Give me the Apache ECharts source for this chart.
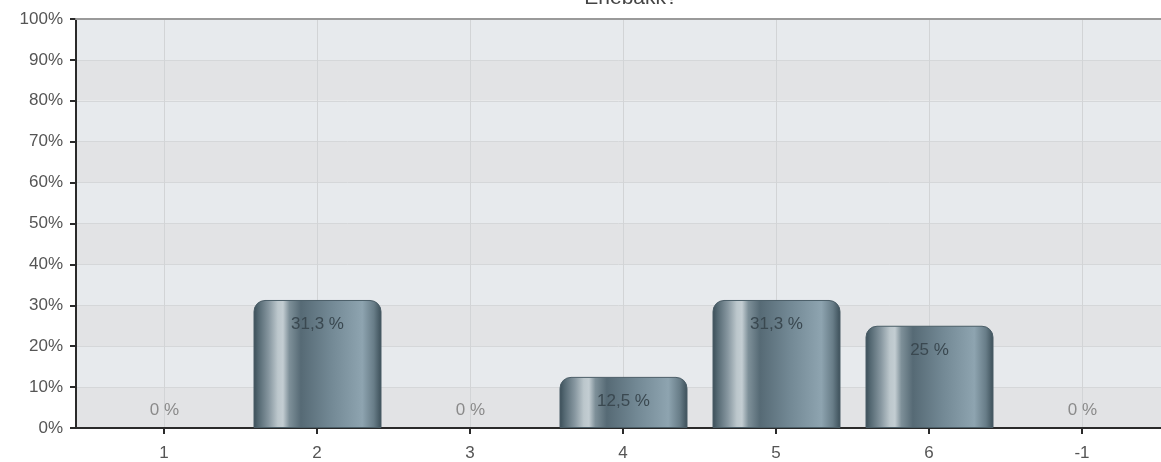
<!DOCTYPE html>
<html>
<head>
<meta charset="utf-8">
<script src="https://cdn.jsdelivr.net/npm/echarts@6/dist/echarts.min.js"></script>
<style>
  html, body { margin: 0; padding: 0; background: #ffffff; }
  #chart { width: 1161px; height: 462px; }
</style>
</head>
<body>
<div id="chart"></div>
<script>
// Answer categories and their share of responses (percent)
const titleText = 'Enebakk?';
const categories = ['1', '2', '3', '4', '5', '6', '-1'];
const percentages = [0, 31.3, 0, 12.5, 31.3, 25, 0];
const yMin = 0;
const yMax = 100;
const yStep = 10;

const FONT = "'Liberation Sans', Arial, sans-serif";
const AXIS_DARK = '#2a2a2a';

// Metallic cylinder look for the bars
const barGradient = new echarts.graphic.LinearGradient(0, 0, 1, 0, [
  { offset: 0.00, color: '#3a4d57' },
  { offset: 0.04, color: '#556973' },
  { offset: 0.12, color: '#8797a0' },
  { offset: 0.19, color: '#bcc7cc' },
  { offset: 0.23, color: '#c3cdd2' },
  { offset: 0.28, color: '#7e9099' },
  { offset: 0.37, color: '#566a75' },
  { offset: 0.60, color: '#728894' },
  { offset: 0.85, color: '#8ea4b0' },
  { offset: 0.94, color: '#687d88' },
  { offset: 1.00, color: '#3b4e58' }
]);

function pctText(v) {
  return String(v).replace('.', ',') + ' %';
}

// Empty answers get a grey label sitting just above the baseline
const barData = percentages.map(function (v) {
  if (v === 0) {
    return {
      value: v,
      itemStyle: { borderWidth: 0 },
      label: { position: 'top', distance: 9, color: '#8a8a8a' }
    };
  }
  return { value: v };
});

const chart = echarts.init(document.getElementById('chart'), null, { renderer: 'canvas' });

chart.setOption({
  animation: false,
  backgroundColor: '#ffffff',
  textStyle: { fontFamily: FONT },
  graphic: [{
    type: 'text',
    x: 631,
    y: 9,
    style: {
      text: titleText,
      fill: '#444',
      font: '21px ' + FONT,
      align: 'center',
      verticalAlign: 'bottom'
    }
  }],
  grid: [
    // full plot frame: background bands, horizontal lines, outer axes
    { left: 76, right: 0, top: 19, bottom: 34 },
    // category bands holding the bars
    { left: 88, width: 1071, top: 19, bottom: 34 },
    // span between first and last category centre: vertical lines, ticks, labels
    { left: 164, width: 918, top: 19, bottom: 34 }
  ],
  xAxis: [
    {
      gridIndex: 0,
      type: 'value',
      min: 0, max: 1,
      position: 'bottom',
      z: 3,
      axisLine: { show: true, lineStyle: { color: AXIS_DARK, width: 2 } },
      axisTick: { show: false },
      axisLabel: { show: false },
      splitLine: { show: false }
    },
    {
      gridIndex: 0,
      type: 'value',
      min: 0, max: 1,
      position: 'top',
      z: 3,
      axisLine: { show: true, lineStyle: { color: '#9a9a9a', width: 2 } },
      axisTick: { show: false },
      axisLabel: { show: false },
      splitLine: { show: false }
    },
    {
      gridIndex: 1,
      type: 'category',
      data: categories,
      boundaryGap: true,
      show: false
    },
    {
      gridIndex: 2,
      type: 'category',
      data: categories,
      boundaryGap: false,
      z: 1,
      axisLine: { show: false },
      axisTick: { show: true, length: 6, lineStyle: { color: AXIS_DARK, width: 2 } },
      axisLabel: { color: '#555', fontSize: 17, margin: 17, fontFamily: FONT, interval: 0 },
      splitLine: { show: true, interval: 0, lineStyle: { color: '#d2d4d6', width: 1 } }
    }
  ],
  yAxis: [
    {
      gridIndex: 0,
      type: 'value',
      min: yMin, max: yMax, interval: yStep,
      z: 0,
      axisLine: { show: true, lineStyle: { color: AXIS_DARK, width: 2 } },
      axisTick: { show: true, length: 6, lineStyle: { color: AXIS_DARK, width: 2 } },
      axisLabel: { color: '#555', fontSize: 17, margin: 13, fontFamily: FONT, formatter: '{value}%' },
      splitLine: { show: true, lineStyle: { color: '#d5d7d9', width: 1 } },
      splitArea: { show: true, areaStyle: { color: ['#e2e3e5', '#e7eaed'] } }
    },
    {
      gridIndex: 1,
      type: 'value',
      min: yMin, max: yMax, interval: yStep,
      show: false
    },
    {
      gridIndex: 2,
      type: 'value',
      min: yMin, max: yMax, interval: yStep,
      show: false
    }
  ],
  series: [{
    type: 'bar',
    xAxisIndex: 2,
    yAxisIndex: 1,
    data: barData,
    barWidth: 128,
    z: 4,
    itemStyle: {
      color: barGradient,
      borderRadius: [11, 11, 0, 0],
      borderColor: '#4a5d67',
      borderWidth: 1
    },
    label: {
      show: true,
      position: 'insideTop',
      distance: 16,
      color: '#3a4850',
      fontSize: 17,
      fontFamily: FONT,
      formatter: function (p) { return pctText(p.value); }
    }
  }]
});
</script>
</body>
</html>
